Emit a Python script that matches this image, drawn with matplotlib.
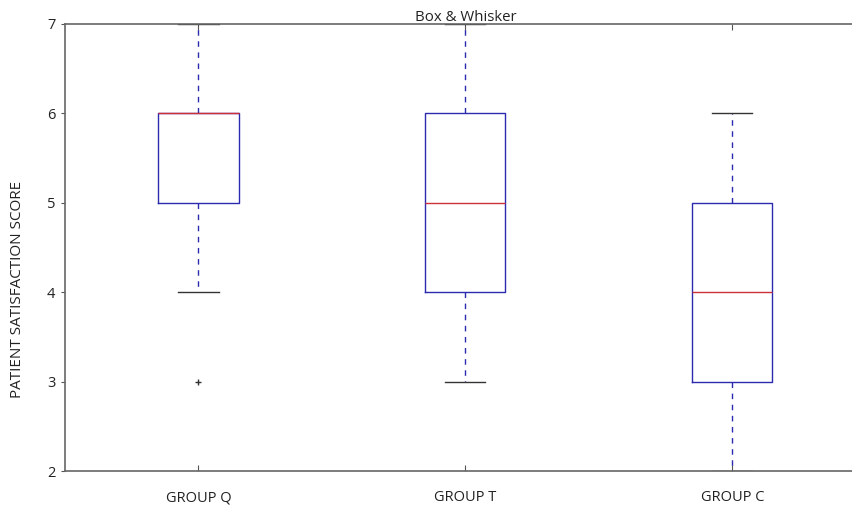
import matplotlib
matplotlib.use("Agg")
import matplotlib.pyplot as plt

plt.rcParams['font.family'] = ['Open Sans', 'DejaVu Sans']

categories = ["GROUP Q", "GROUP T", "GROUP C"]
group_q = [3, 4, 5, 5, 6, 6, 6, 6, 7]
group_t = [3, 4, 5, 6, 7]
group_c = [2, 3, 4, 5, 6]
yticks = [2, 3, 4, 5, 6, 7]

fig = plt.figure(figsize=(8.52, 5.08), dpi=100)
ax = fig.add_axes([0.0763, 0.0728, 0.94, 0.88])

ax.boxplot([group_q, group_t, group_c], widths=0.3,
           boxprops=dict(color='#2b2bb0', linewidth=1.0),
           medianprops=dict(color='#d0303a', linewidth=1.0),
           whiskerprops=dict(color='#2b2bb0', linewidth=1.0, linestyle=(0, (4, 4))),
           capprops=dict(color='#333333', linewidth=1.0),
           flierprops=dict(marker='+', markeredgecolor='#333333', markersize=5, linestyle='none'))

ax.set_xlim(0.5, 3.5)
ax.set_ylim(2, 7)
ax.set_yticks(yticks)
ax.set_xticks([1, 2, 3])
ax.set_xticklabels(categories)
ax.tick_params(axis='both', labelsize=10.5, colors='#222222')
ax.tick_params(axis='x', direction='in', top=True, pad=14, length=4, color='#555555')
ax.tick_params(axis='y', direction='out', right=False, pad=4, length=3, color='#555555')
for s in ax.spines.values():
    s.set_color('#666666')
    s.set_linewidth(1.2)
ax.spines['right'].set_visible(False)

ax.set_ylabel("PATIENT SATISFACTION SCORE", fontsize=11, color='#222222')
ax.yaxis.set_label_coords(-0.05, 0.407)
ax.set_title("Box & Whisker", fontsize=10.8, pad=2, color='#222222')

fig.savefig("out.png", dpi=100)
